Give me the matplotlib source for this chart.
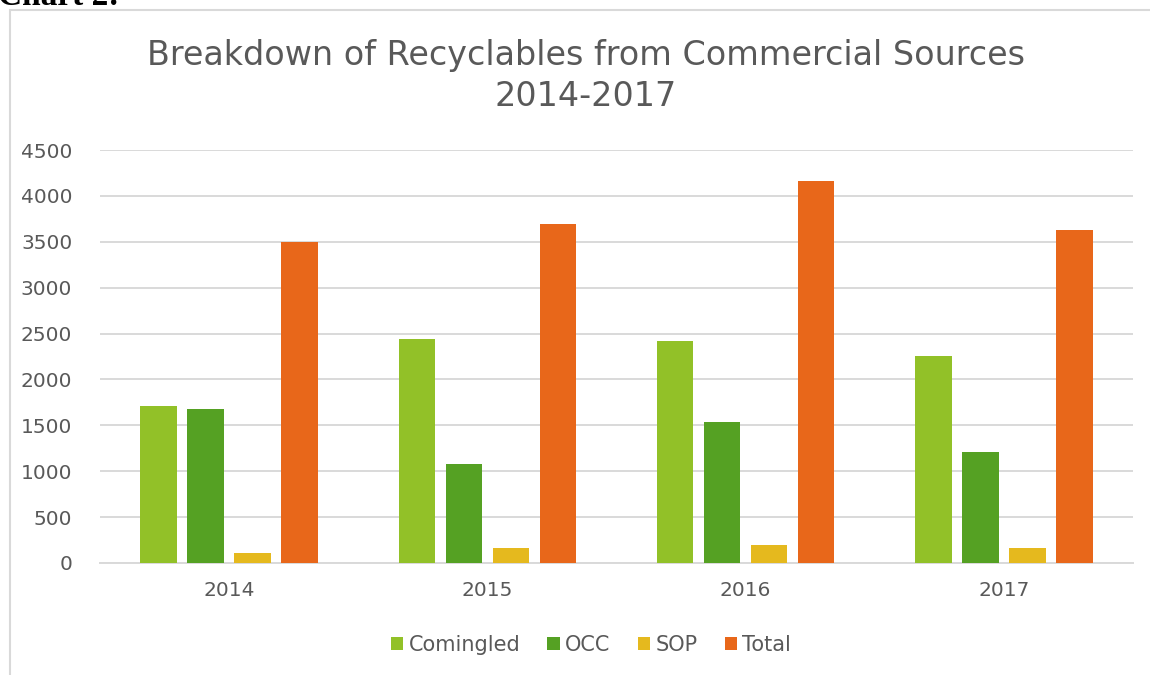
import numpy as np
import matplotlib
matplotlib.use('Agg')
import matplotlib.pyplot as plt
from matplotlib.patches import Rectangle

# Values
years = ['2014', '2015', '2016', '2017']
comingled = [1710, 2445, 2420, 2252]
occ = [1680, 1082, 1532, 1204]
sop = [105, 164, 200, 167]
total = [3500, 3697, 4163, 3631]

series = ['Comingled', 'OCC', 'SOP', 'Total']
colors = ['#92c128', '#55a123', '#e5b91e', '#e8671a']
yticks = [0, 500, 1000, 1500, 2000, 2500, 3000, 3500, 4000, 4500]

text_col = '#595959'
grid_col = '#d9d9d9'

plt.rcParams['font.family'] = ['DejaVu Sans']

fig = plt.figure(figsize=(11.5, 6.75), dpi=100)
ax = fig.add_axes([100 / 1150, 1 - 563 / 675, 1033 / 1150, 413 / 675])

# Chart frame (partly outside the page, like a cropped screenshot)
fig.patches.append(Rectangle((10 / 1150, -0.05), 1.2, 1 - 10 / 675 + 0.05,
                             transform=fig.transFigure, fill=False,
                             edgecolor=grid_col, linewidth=1.5))

# caption above the chart, cut by the page edge as in the screenshot
fig.text(-0.002, 1 - 5 / 675, 'Chart 2:', family='Liberation Serif',
         fontweight='bold', fontsize=24, va='baseline', ha='left', color='black')

x = np.arange(len(years))
step = 0.182
width = 0.142
for i, (name, vals) in enumerate(zip(series, [comingled, occ, sop, total])):
    ax.bar(x + (i - 1.5) * step, vals, width=width, color=colors[i], label=name,
           zorder=3)

ax.set_xlim(-0.5, len(years) - 0.5)
ax.set_ylim(0, 4500)
ax.set_yticks(yticks)
ax.set_xticks(x)
ax.set_xticklabels(years)
ax.tick_params(axis='both', length=0, labelsize=14.5, colors=text_col)
ax.tick_params(axis='x', pad=13)
ax.tick_params(axis='y', pad=20)
ax.grid(axis='y', color=grid_col, linewidth=1.4, zorder=0)
for s in ['top', 'right', 'left']:
    ax.spines[s].set_visible(False)
ax.spines['bottom'].set_color(grid_col)
ax.spines['bottom'].set_linewidth(1.4)

fig.text(586 / 1150, 1 - 55 / 675, 'Breakdown of Recyclables from Commercial Sources',
         ha='center', va='center', fontsize=24, color=text_col)
fig.text(586 / 1150, 1 - 97 / 675, '2014-2017',
         ha='center', va='center', fontsize=24, color=text_col)

fig.legend(loc='center', bbox_to_anchor=(591 / 1150, 1 - 645 / 675), ncol=4,
           frameon=False, fontsize=15, handlelength=0.6, handleheight=0.6,
           handletextpad=0.25, columnspacing=1.3, labelcolor=text_col)

fig.savefig('out.png', dpi=100, facecolor='white')
